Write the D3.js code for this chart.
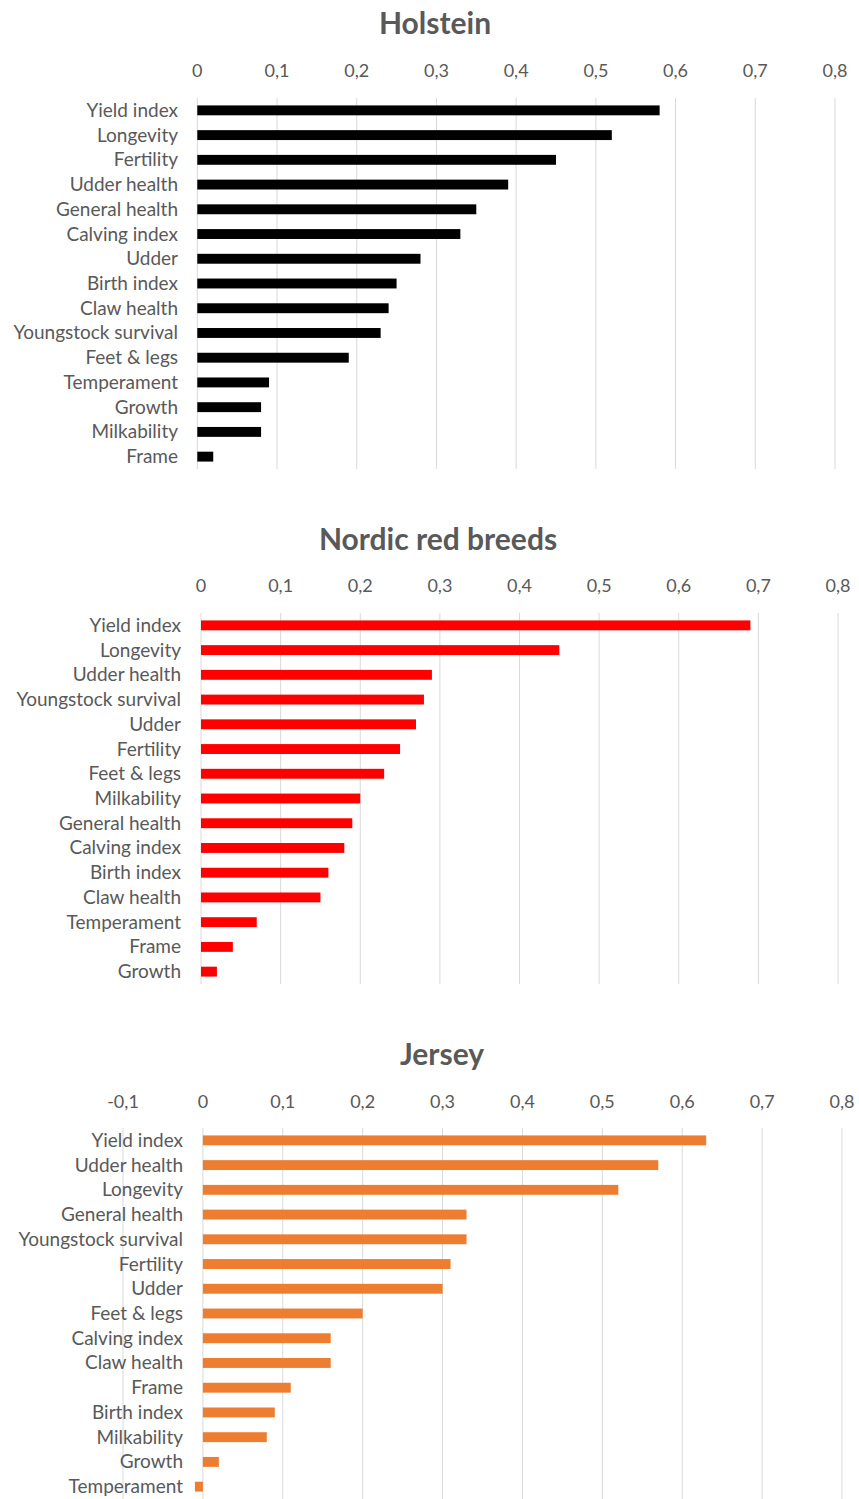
<!DOCTYPE html>
<html><head><meta charset="utf-8">
<script src="https://cdn.jsdelivr.net/npm/d3@7"></script>
<style>
html,body{margin:0;padding:0;background:#fff;}
svg{display:block;}
</style></head>
<body>
<script>
const holsteinCategories = ["Yield index","Longevity","Fertility","Udder health","General health","Calving index","Udder","Birth index","Claw health","Youngstock survival","Feet & legs","Temperament","Growth","Milkability","Frame"];
const holsteinValues = [0.58,0.52,0.45,0.39,0.35,0.33,0.28,0.25,0.24,0.23,0.19,0.09,0.08,0.08,0.02];

const nordicCategories = ["Yield index","Longevity","Udder health","Youngstock survival","Udder","Fertility","Feet & legs","Milkability","General health","Calving index","Birth index","Claw health","Temperament","Frame","Growth"];
const nordicValues = [0.69,0.45,0.29,0.28,0.27,0.25,0.23,0.20,0.19,0.18,0.16,0.15,0.07,0.04,0.02];

const jerseyCategories = ["Yield index","Udder health","Longevity","General health","Youngstock survival","Fertility","Udder","Feet & legs","Calving index","Claw health","Frame","Birth index","Milkability","Growth","Temperament"];
const jerseyValues = [0.63,0.57,0.52,0.33,0.33,0.31,0.30,0.20,0.16,0.16,0.11,0.09,0.08,0.02,-0.01];

const positiveTicks = [0,0.1,0.2,0.3,0.4,0.5,0.6,0.7,0.8];
const jerseyTicks = [-0.1,0,0.1,0.2,0.3,0.4,0.5,0.6,0.7,0.8];

const locale = d3.formatLocale({decimal:",",thousands:" ",grouping:[3],currency:["",""],minus:"-"});
const fmt = locale.format("~g");

const W = 859, H = 1499;
const svg = d3.select("body").append("svg").attr("width",W).attr("height",H);
const FONT = "Lato, 'Open Sans', sans-serif";
const TEXT = "#595959";

function drawChart(opts){
  const {title, categories, values, ticks, color, titleX, titleY, tickY, top, bottom, x0, x1, labelX} = opts;
  const g = svg.append("g");
  const x = d3.scaleLinear().domain([ticks[0], ticks[ticks.length-1]]).range([x0, x1]);
  const y = d3.scaleBand().domain(categories).range([top, bottom]).paddingInner(0.6).paddingOuter(0.3);

  g.append("text").attr("x",titleX).attr("y",titleY).attr("text-anchor","middle")
    .attr("dominant-baseline","central")
    .style("font-family",FONT).style("font-weight","bold").style("font-size","30px").style("fill",TEXT)
    .text(title);

  g.selectAll("line.grid").data(ticks).join("line").attr("class","grid")
    .attr("x1",d=>x(d)).attr("x2",d=>x(d)).attr("y1",top).attr("y2",bottom)
    .attr("stroke","#d9d9d9").attr("stroke-width",1);

  g.selectAll("text.tick").data(ticks).join("text").attr("class","tick")
    .attr("x",d=>x(d)).attr("y",tickY).attr("text-anchor","middle").attr("dominant-baseline","central")
    .style("font-family",FONT).style("font-size","18px").style("fill",TEXT)
    .text(d=>fmt(d));

  g.selectAll("rect.bar").data(values).join("rect").attr("class","bar")
    .attr("x",d=>x(Math.min(0,d))).attr("width",d=>Math.abs(x(d)-x(0)))
    .attr("y",(d,i)=>y(categories[i])).attr("height",y.bandwidth())
    .attr("fill",color);

  g.selectAll("text.cat").data(categories).join("text").attr("class","cat")
    .attr("x",labelX).attr("y",d=>y(d)+y.bandwidth()/2 - 1).attr("text-anchor","end").attr("dominant-baseline","central")
    .style("font-family",FONT).style("font-size","19px").style("fill",TEXT)
    .text(d=>d);
}

drawChart({title:"Holstein", categories:holsteinCategories, values:holsteinValues, ticks:positiveTicks, color:"#000000",
  titleX:435, titleY:22, tickY:70, top:98, bottom:469, x0:197.3, x1:835, labelX:178});
drawChart({title:"Nordic red breeds", categories:nordicCategories, values:nordicValues, ticks:positiveTicks, color:"#ff0000",
  titleX:438, titleY:538, tickY:585, top:613, bottom:984, x0:201, x1:838, labelX:181});
drawChart({title:"Jersey", categories:jerseyCategories, values:jerseyValues, ticks:jerseyTicks, color:"#ed7d31",
  titleX:442, titleY:1053, tickY:1101, top:1128, bottom:1499, x0:123, x1:842, labelX:183});
</script>
</body></html>
